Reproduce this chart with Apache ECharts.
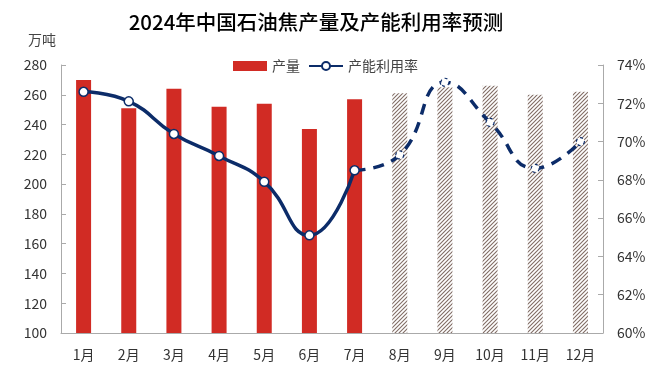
<!DOCTYPE html>
<html><head><meta charset="utf-8">
<script src="https://cdn.jsdelivr.net/npm/echarts@6/dist/echarts.min.js"></script>
<style>html,body{margin:0;padding:0;background:#fff}#c{width:660px;height:374px}</style>
</head><body><div id="c"></div>
<script>
var months = ['1月','2月','3月','4月','5月','6月','7月','8月','9月','10月','11月','12月'];
var output = [270, 251, 264, 252, 254, 237, 257, 261, 265, 266, 260, 262];
var utilActual = [72.6, 72.1, 70.4, 69.25, 67.9, 65.1, 68.5, null, null, null, null, null];
var utilForecast = [null, null, null, null, null, null, 68.5, 69.3, 73.1, 71.0, 68.6, 70.0];
var forecastStart = 7;

var pc = document.createElement('canvas');
pc.width = 4; pc.height = 4;
var g = pc.getContext('2d');
g.fillStyle = '#fff'; g.fillRect(0,0,4,4);
g.strokeStyle = '#806c64'; g.lineWidth = 1.1;
g.beginPath(); g.moveTo(0,4); g.lineTo(4,0); g.stroke();
g.beginPath(); g.moveTo(-1,1); g.lineTo(1,-1); g.stroke();
g.beginPath(); g.moveTo(3,5); g.lineTo(5,3); g.stroke();

var barData = output.map(function(v,i){
  if (i >= forecastStart) return {value:v, itemStyle:{color:{image:pc, repeat:'repeat'}}};
  return v;
});
var forecastData = utilForecast.map(function(v,i){
  if (i === forecastStart - 1) return {value:v, symbol:'none'};
  return v;
});

var chart = echarts.init(document.getElementById('c'));
var font = '"Noto Sans CJK SC", "Noto Sans", sans-serif';
chart.setOption({
  animation:false,
  textStyle:{fontFamily:font},
  title:{text:'2024年中国石油焦产量及产能利用率预测', left:311, textAlign:'center', top:7,
    textStyle:{fontSize:20.5, fontWeight:500, color:'#000', fontFamily:font}},
  graphic:[{type:'text', left:28, top:33, style:{text:'万吨', fontSize:14, fill:'#444', fontFamily:font}}],
  legend:{top:54, left:228, itemWidth:34, itemHeight:10, itemGap:8,
    textStyle:{fontSize:14, color:'#444', fontFamily:font},
    data:[{name:'产量', icon:'rect'}, {name:'产能利用率'}]},
  grid:{left:61, right:57, top:65, bottom:41},
  xAxis:{type:'category', data:months,
    axisLine:{lineStyle:{color:'#aaa'}},
    axisTick:{inside:true, length:4, lineStyle:{color:'#aaa'}},
    axisLabel:{fontSize:14, color:'#333', margin:15}},
  yAxis:[
    {type:'value', min:100, max:280, interval:20,
     axisLine:{show:true, lineStyle:{color:'#aaa'}},
     axisTick:{show:true, inside:true, length:5, lineStyle:{color:'#aaa'}},
     splitLine:{show:false},
     axisLabel:{fontSize:14, color:'#333', margin:14}},
    {type:'value', min:60, max:74, interval:2,
     axisLine:{show:true, lineStyle:{color:'#aaa'}},
     axisTick:{show:true, inside:true, length:5, lineStyle:{color:'#aaa'}},
     splitLine:{show:false},
     axisLabel:{fontSize:14, color:'#333', margin:14, formatter:'{value}%'}}
  ],
  series:[
    {name:'产量', type:'bar', data:barData, barWidth:15, itemStyle:{color:'#d12b24'}},
    {name:'产能利用率', type:'line', yAxisIndex:1, data:utilActual, smooth:0.5,
     symbol:'circle', symbolSize:9, z:5,
     lineStyle:{color:'#0c2c69', width:3.5},
     itemStyle:{color:'#fff', borderColor:'#0c2c69', borderWidth:1.5}},
    {name:'产能利用率预测', type:'line', yAxisIndex:1, data:forecastData, smooth:0.5,
     symbol:'circle', symbolSize:8, z:4,
     lineStyle:{color:'#0c2c69', width:3.5, type:[11,8]},
     itemStyle:{color:'#fff', borderColor:'#0c2c69', borderWidth:1.2, borderType:[3,3]}}
  ]
});
</script></body></html>
